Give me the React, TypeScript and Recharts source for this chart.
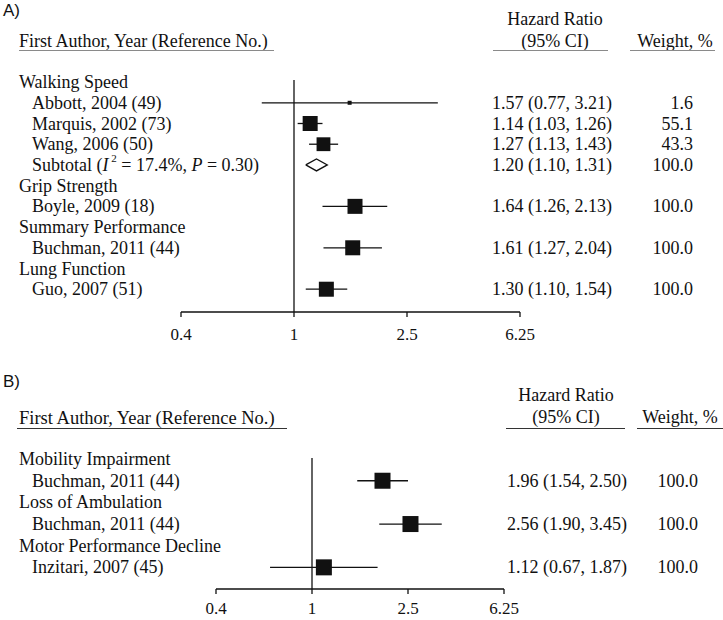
import React from "react";
import {
  ScatterChart,
  Scatter,
  XAxis,
  YAxis,
  ErrorBar,
  ReferenceLine,
} from "recharts";

const SERIF = '"Liberation Serif", "Times New Roman", serif';
const SANS = '"Liberation Sans", Arial, sans-serif';

// Panel A: physical performance measures
const labelsA = [
  "Walking Speed",
  "Abbott, 2004 (49)",
  "Marquis, 2002 (73)",
  "Wang, 2006 (50)",
  "Subtotal",
  "Grip Strength",
  "Boyle, 2009 (18)",
  "Summary Performance",
  "Buchman, 2011 (44)",
  "Lung Function",
  "Guo, 2007 (51)",
];
const hrA = [null, 1.57, 1.14, 1.27, 1.2, null, 1.64, null, 1.61, null, 1.3];
const lowerA = [null, 0.77, 1.03, 1.13, 1.1, null, 1.26, null, 1.27, null, 1.1];
const upperA = [null, 3.21, 1.26, 1.43, 1.31, null, 2.13, null, 2.04, null, 1.54];
const weightA = [null, 1.6, 55.1, 43.3, 100, null, 100, null, 100, null, 100];
const pooledRowA = 4;
const i2A = 17.4;
const pA = 0.3;

// Panel B: mobility outcomes
const labelsB = [
  "Mobility Impairment",
  "Buchman, 2011 (44)",
  "Loss of Ambulation",
  "Buchman, 2011 (44)",
  "Motor Performance Decline",
  "Inzitari, 2007 (45)",
];
const hrB = [null, 1.96, null, 2.56, null, 1.12];
const lowerB = [null, 1.54, null, 1.9, null, 0.67];
const upperB = [null, 2.5, null, 3.45, null, 1.87];
const weightB = [null, 100, null, 100, null, 100];

const hrTicks = [0.4, 1, 2.5, 6.25];

const ink = "#111";

type Num = number | null;

interface PanelProps {
  labels: string[];
  hr: Num[];
  lower: Num[];
  upper: Num[];
  weight: Num[];
  pooled?: number;
  i2?: number;
  p?: number;
  top: number;
  height: number;
  left: number;
  right: number;
  domain: [number, number];
  xHeight: number;
  tickMargin: number;
  boxCap: number;
  diamondHalf: number;
  valueX: number;
  weightX: number;
}

function ForestPanel(props: PanelProps) {
  const { labels, hr, lower, upper, weight, pooled = -1 } = props;
  const rows = labels.map((_, i) => i);

  const studies = rows
    .filter((i) => hr[i] != null && i !== pooled)
    .map((i) => ({
      x: hr[i] as number,
      y: i,
      w: weight[i] as number,
      err: [(hr[i] as number) - (lower[i] as number), (upper[i] as number) - (hr[i] as number)],
    }));

  const diamond =
    pooled >= 0
      ? [
          { x: lower[pooled], y: pooled },
          { x: hr[pooled], y: pooled - props.diamondHalf },
          { x: upper[pooled], y: pooled },
          { x: hr[pooled], y: pooled + props.diamondHalf },
          { x: lower[pooled], y: pooled },
        ]
      : null;

  const Box = (s: any) => {
    const side = Math.max(4, Math.min(props.boxCap, 2.1 * Math.sqrt(s.payload.w)));
    return <rect x={s.cx - side / 2} y={s.cy - side / 2} width={side} height={side} fill={ink} />;
  };

  const LeftTick = (t: any) => {
    const i = t.payload.value;
    const x = hr[i] == null ? 19 : 32;
    const common = {
      x,
      y: t.y,
      textAnchor: "start" as const,
      dominantBaseline: "central" as const,
      fontFamily: SERIF,
      fontSize: 18,
      fill: ink,
    };
    if (i === pooled) {
      return (
        <text {...common}>
          {labels[i]} (<tspan fontStyle="italic">I</tspan>
          <tspan dy={-7} fontSize={11}>
            {" "}2
          </tspan>
          <tspan dy={7}>{` = ${props.i2}%, `}</tspan>
          <tspan fontStyle="italic">P</tspan>
          {` = ${props.p!.toFixed(2)})`}
        </text>
      );
    }
    return <text {...common}>{labels[i]}</text>;
  };

  const RightTick = (t: any) => {
    const i = t.payload.value;
    if (hr[i] == null) return <g />;
    const style = { fontFamily: SERIF, fontSize: 18, fill: ink, dominantBaseline: "central" as const };
    return (
      <g>
        <text x={props.valueX} y={t.y} textAnchor="start" {...style}>
          {`${(hr[i] as number).toFixed(2)} (${(lower[i] as number).toFixed(2)}, ${(upper[i] as number).toFixed(2)})`}
        </text>
        <text x={props.weightX} y={t.y} textAnchor="end" {...style}>
          {(weight[i] as number).toFixed(1)}
        </text>
      </g>
    );
  };

  return (
    <ScatterChart
      width={723}
      height={props.height}
      margin={{ top: props.top, right: 0, bottom: 0, left: 0 }}
    >
      <XAxis
        type="number"
        dataKey="x"
        scale="log"
        domain={[0.4, 6.25]}
        ticks={hrTicks}
        interval={0}
        allowDataOverflow
        height={props.xHeight}
        axisLine={{ stroke: ink, strokeWidth: 1.3 }}
        tickLine={{ stroke: ink, strokeWidth: 1.3 }}
        tickSize={5}
        tickMargin={props.tickMargin}
        tick={{ fill: ink, fontFamily: SERIF, fontSize: 17 }}
      />
      <YAxis
        type="number"
        dataKey="y"
        domain={props.domain}
        reversed
        allowDataOverflow
        ticks={rows}
        interval={0}
        width={props.left}
        axisLine={false}
        tickLine={false}
        tick={LeftTick}
      />
      <YAxis
        yAxisId="r"
        orientation="right"
        type="number"
        dataKey="y"
        domain={props.domain}
        reversed
        allowDataOverflow
        ticks={rows}
        interval={0}
        width={props.right}
        axisLine={false}
        tickLine={false}
        tick={RightTick}
      />
      <ReferenceLine x={1} stroke={ink} strokeWidth={1.3} />
      <Scatter data={studies} shape={Box} isAnimationActive={false}>
        <ErrorBar dataKey="err" direction="x" width={0} stroke={ink} strokeWidth={1.3} />
      </Scatter>
      {diamond && (
        <Scatter
          data={diamond}
          line={{ stroke: ink, strokeWidth: 1.3 }}
          lineType="joint"
          shape={() => <g />}
          isAnimationActive={false}
        />
      )}
    </ScatterChart>
  );
}

function Txt({
  x,
  y,
  children,
  align = "left",
  font = SERIF,
  size = 18,
}: {
  x: number;
  y: number;
  children: React.ReactNode;
  align?: "left" | "center" | "right";
  font?: string;
  size?: number;
}) {
  const tx = align === "left" ? "0" : align === "center" ? "-50%" : "-100%";
  return (
    <div
      style={{
        position: "absolute",
        left: x,
        top: y,
        transform: `translate(${tx}, -50%)`,
        fontFamily: font,
        fontSize: size,
        lineHeight: 1,
        whiteSpace: "nowrap",
        color: ink,
      }}
    >
      {children}
    </div>
  );
}

function Rule({ x1, x2, y, color }: { x1: number; x2: number; y: number; color: string }) {
  return (
    <div
      style={{
        position: "absolute",
        left: x1,
        top: y,
        width: x2 - x1,
        height: 0,
        borderTop: `1.5px solid ${color}`,
      }}
    />
  );
}

export default function App() {
  return (
    <div
      style={{
        position: "absolute",
        left: 0,
        top: 0,
        width: 723,
        height: 620,
        background: "#fff",
        overflow: "hidden",
      }}
    >
      <div style={{ position: "absolute", left: 0, top: 0 }}>
        <ForestPanel
          labels={labelsA}
          hr={hrA}
          lower={lowerA}
          upper={upperA}
          weight={weightA}
          pooled={pooledRowA}
          i2={i2A}
          p={pA}
          top={80}
          height={360}
          left={181}
          right={203}
          domain={[-0.1, 11.1]}
          xHeight={48}
          tickMargin={11}
          boxCap={15}
          diamondHalf={0.29}
          valueX={492}
          weightX={693}
        />
      </div>
      <div style={{ position: "absolute", left: 0, top: 360 }}>
        <ForestPanel
          labels={labelsB}
          hr={hrB}
          lower={lowerB}
          upper={upperB}
          weight={weightB}
          top={98}
          height={260}
          left={216}
          right={219}
          domain={[-0.05, 6.0]}
          xHeight={31}
          tickMargin={8}
          boxCap={16}
          diamondHalf={0.28}
          valueX={507}
          weightX={698}
        />
      </div>

      <Txt x={3} y={10} font={SANS} size={17}>A)</Txt>
      <Txt x={19} y={41}>First Author, Year (Reference No.)</Txt>
      <Rule x1={19} x2={274} y={50} color="#8a8a8a" />
      <Txt x={555} y={19} align="center">Hazard Ratio</Txt>
      <Txt x={555} y={41} align="center">(95% CI)</Txt>
      <Rule x1={493} x2={608} y={50} color="#8a8a8a" />
      <Txt x={675} y={41} align="center">Weight, %</Txt>
      <Rule x1={630} x2={715} y={50} color="#8a8a8a" />

      <Txt x={3} y={381} font={SANS} size={17}>B)</Txt>
      <Txt x={19} y={418} size={18.5}>First Author, Year (Reference No.)</Txt>
      <Rule x1={17} x2={287} y={428} color="#333" />
      <Txt x={566} y={395} align="center">Hazard Ratio</Txt>
      <Txt x={566} y={417} align="center">(95% CI)</Txt>
      <Rule x1={506} x2={625} y={428} color="#333" />
      <Txt x={680} y={417} align="center">Weight, %</Txt>
      <Rule x1={637} x2={723} y={428} color="#333" />
    </div>
  );
}
